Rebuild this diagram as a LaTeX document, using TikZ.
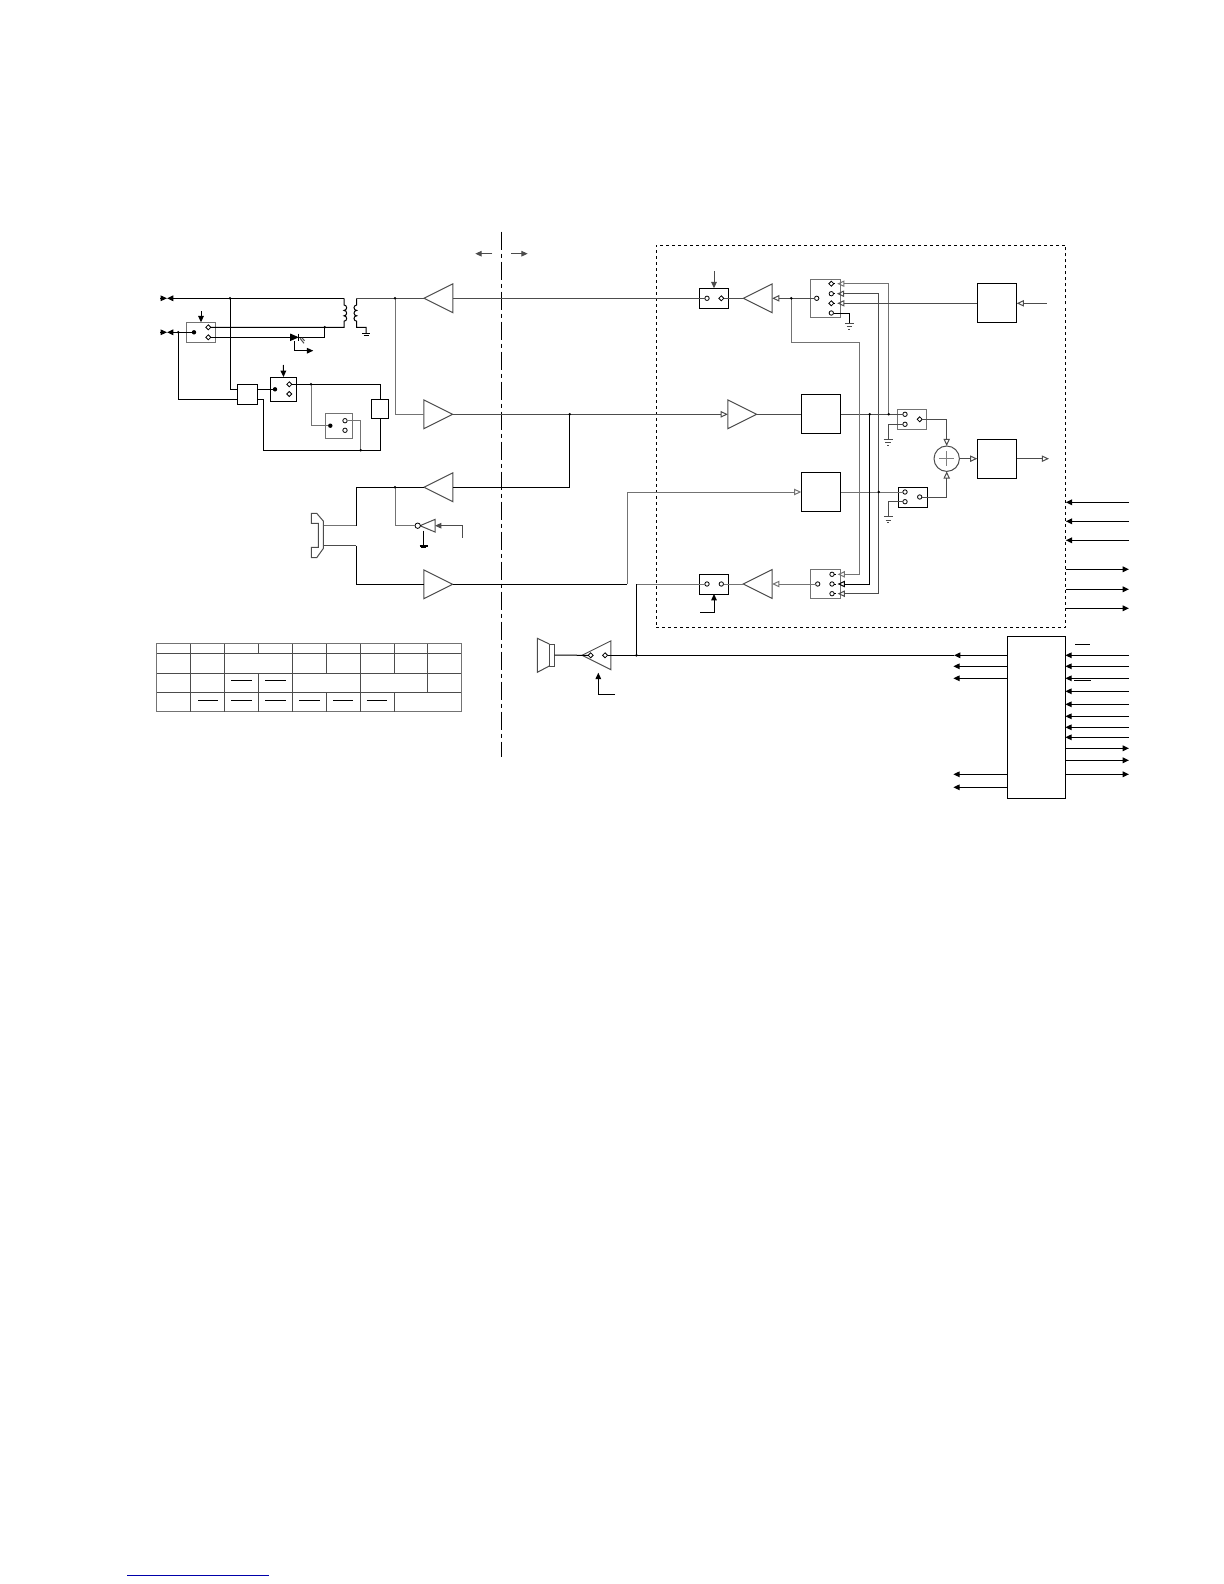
\documentclass[tikz,border=0pt]{standalone}
\usetikzlibrary{arrows.meta,shapes.geometric}
\definecolor{linkblue}{RGB}{0,0,170}
\tikzset{
    ampl/.style={draw=black!70,isosceles triangle,isosceles triangle stretches,shape border rotate=180,minimum width=14.4pt,minimum height=14.4pt,inner sep=0,outer sep=0},
    ampr/.style={ampl,shape border rotate=0},
    swbox/.style={draw,minimum width=14.7pt,minimum height=10pt,inner sep=0,outer sep=0},
    bigbox/.style={draw,minimum width=19.7pt,minimum height=19.5pt,inner sep=0,outer sep=0},
    hole/.style={draw,fill=white,circle,minimum size=2.2pt,inner sep=0,outer sep=0,line width=.4pt},
    dmd/.style={draw,fill=white,diamond,minimum size=2.5pt,inner sep=0,outer sep=0,line width=.4pt},
    bigdot/.style={fill,circle,minimum size=2.2pt,inner sep=0,outer sep=0},
    greyl/.style={draw=black!55},
    heavy/.style={line width=.65pt},
    oarr/.style={-{Triangle[open,length=3.6pt,width=3.2pt]}},
    oo/.style={{Triangle[open,length=3.6pt,width=3.2pt]}-{Triangle[open,length=3.6pt,width=3.2pt]}}
}
\begin{document}
\begin{tikzpicture}[>={Triangle[length=3.2pt,width=2.8pt]},x=.5pt,y=-.5pt,line width=.5pt]
\useasboundingbox (0,0) rectangle (1224,1584);
\draw[linkblue,line width=.8pt] (127.3,1575.3)--(269,1575.3);
\draw[line width=.6pt,dash pattern=on 9pt off 2pt on 2pt off 2pt] (501.3,231.7)--(501.3,757.3);
\coordinate (dl1) at (492.3,253.7);
\coordinate (dl2) at (475.3,253.7);
\coordinate (dr1) at (511,253.7);
\coordinate (dr2) at (527.7,253.7);
\draw[->,black!70] (dl1)--(dl2);
\draw[->,black!70] (dr1)--(dr2);
\node[draw,dash pattern=on 1.5pt off 1.5pt,minimum width=204.7pt,minimum height=191pt,inner sep=0,outer sep=0] (dsp) at (861,436.1) {};
\node[draw,heavy,minimum width=29pt,minimum height=81pt,inner sep=0,outer sep=0] (ctl) at (1036.3,717.3) {};

\node[swbox,greyl] (s1) at (201,332.3) {};
\node[bigdot] (s1p) at (194,332.3) {};
\node[dmd] (s1a) at (208.3,327.3) {};
\node[dmd] (s1b) at (208.3,337.3) {};
\node[draw,minimum width=10.2pt,minimum height=10.2pt,inner sep=0,outer sep=0] (b1) at (247.5,394.5) {};
\node[swbox,minimum width=13.2pt,minimum height=12.3pt] (s2) at (283.5,389.3) {};
\node[bigdot] (s2p) at (275,389.3) {};
\node[dmd] (s2a) at (289.3,384.3) {};
\node[dmd] (s2b) at (289.3,394) {};
\node[swbox,greyl,minimum width=13.7pt,minimum height=12.3pt] (s3) at (339,425.7) {};
\node[bigdot] (s3p) at (330.3,425.7) {};
\node[hole] (s3a) at (345,420.7) {};
\node[hole] (s3b) at (345,430.3) {};
\node[draw,minimum width=8.5pt,minimum height=9.7pt,inner sep=0,outer sep=0] (b2) at (380.2,409) {};

\node[ampl,anchor=apex] (a1) at (424,298.3) {};
\node[ampr,anchor=apex] (a2) at (452.7,414.3) {};
\node[ampl,anchor=apex] (a3) at (424,487.3) {};
\node[ampr,anchor=apex] (a4) at (452.7,584.3) {};
\node[ampr,anchor=apex] (a5) at (756.7,414.3) {};
\node[ampl,anchor=apex] (a6) at (743.3,298.3) {};
\node[ampl,anchor=apex] (a7) at (743.3,584) {};
\node[ampl,anchor=apex] (a8) at (582,655.3) {};
\node[ampl,anchor=apex,minimum width=6.3pt,minimum height=7.5pt] (a9) at (420,525.7) {};
\node[hole,minimum size=2.7pt] (bub) at (417.7,525.7) {};

\node[swbox] (s4) at (714,298.3) {};
\node[hole] (s4a) at (707,298.3) {};
\node[dmd] (s4b) at (721.3,298.3) {};
\node[swbox,greyl,minimum height=19.2pt] (s5) at (825.3,298.5) {};
\node[hole] (s5p) at (816.7,298.3) {};
\node[dmd] (s5a) at (831.3,283.7) {};
\node[hole] (s5b) at (831.3,293.7) {};
\node[dmd] (s5c) at (831.3,303.3) {};
\node[hole] (s5d) at (831.3,313) {};
\node[swbox,greyl] (s6) at (912.2,419.3) {};
\node[hole] (s6a) at (905,414.3) {};
\node[hole] (s6b) at (905,424.3) {};
\node[dmd] (s6c) at (919.7,419.3) {};
\node[swbox] (s7) at (913,497) {};
\node[hole] (s7a) at (905,492) {};
\node[hole] (s7b) at (905,501.7) {};
\node[hole] (s7c) at (919.7,497) {};
\node[swbox] (s8) at (714,584) {};
\node[hole] (s8a) at (707,584) {};
\node[hole] (s8b) at (721.3,584) {};
\node[swbox,greyl,minimum height=14.5pt] (s9) at (825.3,584) {};
\node[hole] (s9p) at (817.7,584) {};
\node[hole] (s9a) at (832,574.3) {};
\node[hole] (s9b) at (832,584) {};
\node[hole] (s9c) at (832,593.7) {};
\node[bigbox] (b3) at (821,414.3) {};
\node[bigbox] (b4) at (821,492) {};
\node[bigbox] (b5) at (997,303.3) {};
\node[bigbox] (b6) at (997,458.7) {};
\node[draw=black!70,circle,minimum size=12.7pt,inner sep=0,outer sep=0] (sum) at (946.7,458.7) {};
\node[dmd] (a8p) at (590.7,655.3) {};
\node[dmd] (a8q) at (605,655.3) {};
\node[draw=black!70,minimum width=2.7pt,minimum height=11pt,inner sep=0,outer sep=0] (spk) at (552,655) {};
\node[draw,fill,isosceles triangle,isosceles triangle stretches,minimum width=3pt,minimum height=3.4pt,inner sep=0,outer sep=0,anchor=apex] (d1) at (297.5,337.3) {};

\coordinate (t1l) at (160,298.3);
\coordinate (t1) at (167,298.3);
\coordinate (t2l) at (160,332.3);
\coordinate (t2) at (167,332.3);
\coordinate (xf1) at (344,298.3);
\coordinate (xf2) at (356.7,298.3);
\coordinate (xf3) at (344,327.3);
\coordinate (xf4) at (356.7,327.3);
\coordinate (g1) at (366,333.5);
\coordinate (g2) at (423.7,546);
\coordinate (g3) at (849.3,323.3);
\coordinate (g4) at (888,439);
\coordinate (g5) at (888.3,516.7);
\coordinate (j1) at (230,298.3);
\coordinate (j2) at (178.3,332.3);
\coordinate (j3) at (324.7,327.3);
\coordinate (j4) at (311,384.3);
\coordinate (j5) at (360.7,450.3);
\coordinate (j7) at (395,298.3);
\coordinate (j8) at (569.7,414.3);
\coordinate (j9) at (791.3,298.3);
\coordinate (j10) at (888.7,414.3);
\coordinate (j11) at (878.7,492);
\coordinate (j12) at (869.7,414.3);
\coordinate (j13) at (636.4,655.3);
\coordinate (j14) at (395,487.3);

\draw[->] (t1l)--(t1);
\draw[->,heavy] (xf1)--(t1);
\draw[->] (t2l)--(t2);
\draw[->,heavy] (s1p)--(t2);
\draw (xf1)--++(0,6.7) arc(-90:90:2.7) arc(-90:90:2.7) arc(-90:90:2.7)--(xf3)--(j3)--(s1a);
\draw (xf2)--++(0,6.7) arc(270:90:2.7) arc(270:90:2.7) arc(270:90:2.7)--(xf4)-|(g1);
\draw[black!70] (xf2)--(a1.apex);
\draw (j1)|-(237.3,389.3);
\draw (j2)|-(237.3,399.3);
\draw (257.7,389.3)--(s2p);
\draw (257.7,399.3)-|(263.3,450.3)-|(b2.south);
\draw (s2a)-|(b2.north);
\draw[greyl] (j4)|-(s3p);
\draw[greyl] (s3a)-|(j5);
\draw (s1b)--(d1.lower side);
\draw (d1.apex)-|(j3);
\draw (298.3,333.6)--(298.3,341);
\draw[black!70] (300,338.3)--(304,343.3) (302,337.8)--(304.5,340.8);
\coordinate (d2) at (294.3,341);
\coordinate (d3) at (313.3,350.7);
\draw[->] (d2)|-(d3);
\coordinate (c1) at (201,311);
\coordinate (c2) at (283.3,365);
\coordinate (c3) at (714,271);
\coordinate (c4) at (700,612.3);
\coordinate (c5) at (462.7,537.7);
\coordinate (c6) at (615,694.3);
\coordinate (c7) at (598.3,672.7);
\draw[->] (c1)--(s1.north);
\draw[->] (c2)--(s2.north);
\draw[->,black!70] (c3)--(s4.north);
\draw[->] (c4)-|(s8.south);
\draw[->,black!70] (c5)|-(a9.lower side);
\draw[->] (c6)-|(c7);

\draw[greyl] (j7)|-(a2.lower side);
\draw[black!70] (a1.lower side)--(s4a);
\draw[oarr,black!70] (a2.apex)--(a5.lower side);
\draw[heavy] (a3.lower side)-|(j8);
\coordinate (h1) at (323.3,525.7);
\coordinate (h2) at (323.3,545.7);
\coordinate (h3) at (356.3,525.7);
\coordinate (h4) at (356.3,545.7);
\draw[heavy] (h3)|-(a3.apex);
\draw[greyl] (h1)--(h3);
\draw[black!70] (h2)--(h4);
\draw[heavy] (h4)|-(a4.lower side);
\draw[greyl] (j14)|-(bub.west);
\coordinate (g2t) at (423.7,530.7);
\draw (g2t)--(g2);
\coordinate (f1) at (627,584.3);
\draw[heavy] (a4.apex)--(f1);
\draw[oarr,greyl] (f1)|-(b4.west);
\draw[black!70] (s4b)--(a6.apex);
\draw[oarr,black!70] (s5p)--(a6.lower side);
\draw[oarr,greyl] (s9p)--(a7.lower side);
\draw[greyl] (a7.apex)--(s8b);
\draw[greyl] (s8a)-|(j13);
\draw[black!70] (a5.apex)--(b3.west);
\draw[black!70] (b3.east)--(s6a);
\draw[greyl] (b4.east)--(s7a);
\coordinate (e1) at (791.3,342);
\coordinate (e2) at (859.3,342);
\coordinate (e3) at (859.3,574.3);
\coordinate (e4) at (869.7,584);
\coordinate (e5) at (878.7,293.7);
\coordinate (e6) at (878.7,593.7);
\coordinate (e7) at (888.7,283.7);
\coordinate (e8) at (849.3,313);
\draw[oarr,greyl,shorten >=1.7pt] (j9)--(e1)--(e2)--(e3)--(s9a);
\draw[oarr,shorten >=1.7pt] (j12)--(e4)--(s9b);
\draw[oo,black!70,shorten <=1.7pt,shorten >=1.7pt] (s5b)--(e5)--(e6)--(s9c);
\draw[oarr,greyl,shorten >=1.7pt] (j10)--(e7)--(s5a);
\draw[oarr,black!70,shorten >=1.7pt] (b5.west)--(s5c);
\draw (s5d)--(e8)--(g3);
\foreach \p in {s5a,s5b,s5c,s9a,s9b,s9c}
{
    \draw (\p)--++(4,0);
}
\draw[black!70] (s6b)-|(g4);
\draw[black!70] (s7b)-|(g5);
\draw[oarr,black!70] (s6c)-|(sum.north);
\draw[oarr,black!70] (s7c)-|(sum.south);
\draw[oarr,black!70] (sum.east)--(b6.west);
\coordinate (o1) at (1049,458.7);
\coordinate (i1) at (1046.7,303.3);
\draw[oarr,black!70] (b6.east)--(o1);
\draw[oarr,black!70] (i1)--(b5.east);
\draw[gray] (sum.center)++(-7.5,0)--++(15,0) (sum.center)++(0,-7.5)--++(0,15);

\draw (spk.east)--(a8.apex)--(a8p);
\coordinate (w1) at (954,655.3);
\draw[heavy] (a8q)--(w1);
\draw[->,heavy] (ctl.west|-w1)--(w1);
\draw[heavy] (s8a-|j13)--(j13);
\draw[black!70] (spk.north west)--(537.3,638.3)--(537.3,672.3)--(spk.south west);
\draw[black!70] (311.3,513.3)--(316.7,513.3)--(323.3,521)--(323.3,548.5)--(316.7,557.7)--(311.3,557.7)--(311.3,547.3)--(318.3,547.3)--(318.3,523.3)--(311.3,523.3)--cycle;

\foreach \g in {g1,g2}
{
    \draw[line width=.8pt] (\g)++(-4,0)--++(8,0);
    \draw[line width=.3pt] (\g)++(-2.5,1.3)--++(5,0);
}
\foreach \g in {g3,g4,g5}
{
    \draw[black!70] (\g)++(-4.5,0)--++(9,0) (\g)++(-2.7,3.3)--++(5.4,0) (\g)++(-1,6)--++(2,0);
}
\foreach \j in {j1,j2,j3,j4,j5,j7,j9,j10,j11,j12,j13,j14,j8}
{
    \fill (\j) circle(.7pt);
}
\foreach \y in {502.3,521.3,540.3}
{
    \coordinate (p) at (1129,\y);
    \draw[->,heavy] (p)--(p-|dsp.east);
}
\foreach \y in {569.3,589.3,608.3}
{
    \coordinate (p) at (1129,\y);
    \draw[->,heavy] (p-|dsp.east)--(p);
}
\foreach \y in {655.3,666.3,678.3,691.3,704.3,716.3,727.3,737.3}
{
    \coordinate (p) at (1129,\y);
    \draw[->,heavy] (p)--(p-|ctl.east);
}
\foreach \y in {748.3,760.3,774.3}
{
    \coordinate (p) at (1129,\y);
    \draw[->,heavy] (p-|ctl.east)--(p);
}
\foreach \y in {666.3,678.3,774.3,787.3}
{
    \coordinate (p) at (953.3,\y);
    \draw[->,heavy] (p-|ctl.west)--(p);
}
\draw (1075.3,644.3)--(1090,644.3);
\draw (1074,680.3)--(1091,680.3);

\foreach \y in {653.3,673,692.3}
{
    \draw[black!70] (156.3,\y)--(461.7,\y);
}
\draw[greyl] (156.3,643.7) rectangle (461.7,711.7);
\foreach \x/\a/\b in {190.7/643.7/711.7,224.7/643.7/711.7,258.3/643.7/653.3,258.3/673/711.7,292.3/643.7/711.7,326.3/643.7/673,326.3/692.3/711.7,360.3/643.7/711.7,394.3/643.7/673,394.3/692.3/711.7,427.7/643.7/692.3}
{
    \draw[black!70] (\x,\a)--(\x,\b);
}
\foreach \a/\b in {231/252,265/286}
{
    \draw (\a,680.3)--(\b,680.3);
}
\foreach \a/\b in {198/218,231/252,265/286,299/320,333/353.3,366.7/387}
{
    \draw (\a,700)--(\b,700);
}
\end{tikzpicture}
\end{document}
